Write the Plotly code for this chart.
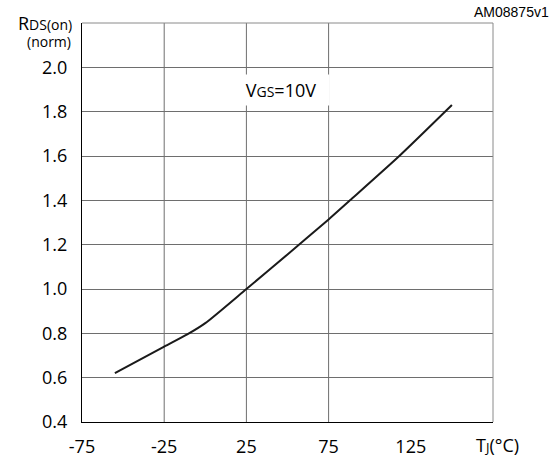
import plotly.graph_objects as go

# Data
tj = [-55, -25, -11, 0, 25, 50, 75, 88, 118, 150]
rds_norm = [0.62, 0.74, 0.795, 0.846, 1.0, 1.156, 1.314, 1.4, 1.6, 1.83]

x_ticks = [-75, -25, 25, 75, 125]
x_ticktext = ["-75", "-25", "25", "75", "125"]
x_grid = [-25, 25, 75]
y_ticks = [0.4, 0.6, 0.8, 1.0, 1.2, 1.4, 1.6, 1.8, 2.0]
y_ticktext = ["0.4", "0.6", "0.8", "1.0", "1.2", "1.4", "1.6", "1.8", "2.0"]
x_range = [-75, 175]
y_range = [0.4, 2.2]

FONT = "Open Sans"
GRID = "#6e6e6e"

fig = go.Figure()
fig.add_trace(go.Scatter(x=tj, y=rds_norm, mode="lines",
                         line=dict(color="#1a1a1a", width=2, shape="spline", smoothing=0.6),
                         showlegend=False, hoverinfo="skip"))

shapes = []
for gx in x_grid:
    shapes.append(dict(type="line", xref="x", yref="paper", x0=gx, x1=gx, y0=0, y1=1,
                       line=dict(color=GRID, width=1), layer="below"))
# top and right border (gray)
shapes.append(dict(type="line", xref="paper", yref="paper", x0=0, x1=1, y0=1, y1=1,
                   line=dict(color="#8a8a8a", width=1)))
shapes.append(dict(type="line", xref="paper", yref="paper", x0=1, x1=1, y0=0, y1=1,
                   line=dict(color="#8a8a8a", width=1)))

annotations = [
    dict(text="V<span style='font-size:14px'>GS</span>=10V", x=46, y=1.9, xref="x", yref="y",
         showarrow=False, font=dict(family=FONT, size=18, color="black"),
         bgcolor="white", width=96, height=30, borderpad=0),
    dict(text="R<span style='font-size:14px'>DS(on)</span>", xref="paper", yref="paper",
         x=0, y=1, xanchor="right", yanchor="middle", xshift=-8, yshift=0,
         showarrow=False, font=dict(family=FONT, size=18, color="black")),
    dict(text="(norm)", xref="paper", yref="paper",
         x=0, y=1, xanchor="right", yanchor="middle", xshift=-9, yshift=-18,
         showarrow=False, font=dict(family=FONT, size=14, color="black")),
    dict(text="T<span style='font-size:13px'>J</span>(°C)", xref="paper", yref="paper",
         x=1, y=0, xanchor="left", yanchor="middle", xshift=-19, yshift=-23,
         showarrow=False, font=dict(family=FONT, size=18, color="black")),
    dict(text="AM08875v1", xref="paper", yref="paper",
         x=1, y=1, xanchor="right", yanchor="middle", xshift=58, yshift=11,
         showarrow=False, font=dict(family="Liberation Sans", size=14, color="black")),
]

fig.update_layout(
    width=553, height=470,
    margin=dict(l=82, r=60, t=23, b=37, pad=0),
    paper_bgcolor="white", plot_bgcolor="white",
    shapes=shapes, annotations=annotations,
    xaxis=dict(range=x_range, tickmode="array", tickvals=x_ticks, ticktext=x_ticktext,
               showgrid=False, zeroline=False, showline=True, linecolor="black", linewidth=1,
               ticks="", ticklabelstandoff=8,
               tickfont=dict(family=FONT, size=18, color="black")),
    yaxis=dict(range=y_range, tickmode="array", tickvals=y_ticks, ticktext=y_ticktext,
               showgrid=True, gridcolor=GRID, gridwidth=1, zeroline=False,
               showline=True, linecolor="black", linewidth=1,
               ticks="", ticklabelstandoff=10,
               tickfont=dict(family=FONT, size=18, color="black")),
)

fig.write_html("out.html", config={"displayModeBar": False},
               post_script="document.body.style.margin='0';document.body.style.overflow='hidden';")
